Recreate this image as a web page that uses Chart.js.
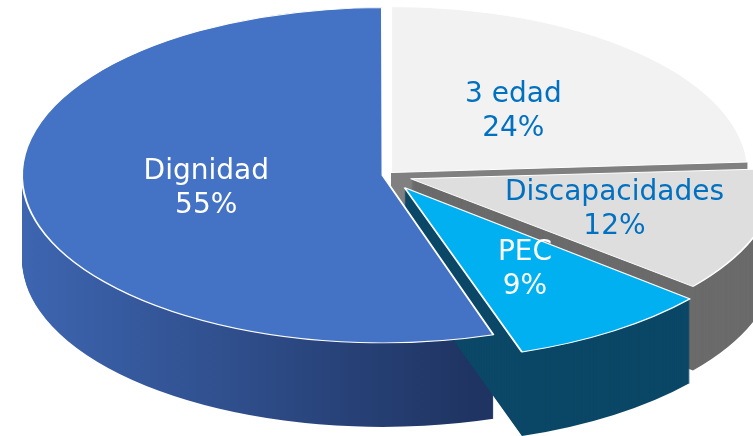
<!DOCTYPE html>
<html>
<head>
<meta charset="utf-8">
<script src="https://cdn.jsdelivr.net/npm/chart.js@4.4.0/dist/chart.umd.min.js"></script>
<style>
  html, body { margin: 0; padding: 0; background: #fff; }
  #wrap { width: 753px; height: 436px; }
</style>
</head>
<body>
<div id="wrap"><canvas id="pie" width="753" height="436"></canvas></div>
<script>
// slice order follows the picture: clockwise from 12 o'clock
var categories = ['3 edad', 'Discapacidades', 'PEC', 'Dignidad'];
var shares = [24, 12, 9, 55];

var topColors = ['#f2f2f2', '#dedede', '#00b0f0', '#4472c4'];
var sideColors = ['#808080', '#6b6b6b', '#0b4766', null]; // null -> blue gradient
var labelColors = ['#0070c0', '#0070c0', '#ffffff', '#ffffff'];
var explode = [30, 104, 132, 14];

var TILT = 0.465;  // vertical squash of the pie disc
var DEPTH = 84;    // thickness of the disc in px

var pie3d = {
  id: 'pie3d',
  beforeDatasetsDraw: function (chart) {
    var ctx = chart.ctx;
    var arcs = chart.getDatasetMeta(0).data;
    var cy = arcs[0].y;
    ctx.save();
    ctx.translate(0, cy);
    ctx.scale(1, TILT);
    ctx.translate(0, -cy);

    // sides first, back slices before front ones
    [0, 1, 3, 2].forEach(function (i) {
      var arc = arcs[i];
      var fill = sideColors[i];
      if (!fill) {
        fill = ctx.createLinearGradient(arc.x - arc.outerRadius, 0, arc.x + arc.outerRadius * 0.25, 0);
        fill.addColorStop(0, '#3d65b0');
        fill.addColorStop(1, '#1f3462');
      }
      var ghost = Object.create(arc);
      ghost.options = Object.assign({}, arc.options, { backgroundColor: fill, borderWidth: 0 });
      for (var d = DEPTH; d > 0; d--) {
        ctx.save();
        ctx.translate(0, d / TILT);
        ghost.draw(ctx);
        ctx.restore();
      }
    });
  },
  afterDatasetsDraw: function (chart) {
    var ctx = chart.ctx;
    ctx.restore();

    var arcs = chart.getDatasetMeta(0).data;
    ctx.save();
    ctx.font = '28px "DejaVu Sans"';
    ctx.textAlign = 'center';
    ctx.textBaseline = 'middle';
    arcs.forEach(function (arc, i) {
      var mid = (arc.startAngle + arc.endAngle) / 2;
      var push = (arc.options.offset || 0) / 4;
      var frac = arc.circumference > 1.2 ? 0.5 : 0.6;
      var rr = arc.outerRadius * frac + push;
      var x = arc.x + Math.cos(mid) * rr;
      var y = arc.y + Math.sin(mid) * rr * TILT;
      ctx.fillStyle = labelColors[i];
      ctx.fillText(categories[i], x, y - 17);
      ctx.fillText(shares[i] + '%', x, y + 17);
    });
    ctx.restore();
  }
};

new Chart(document.getElementById('pie'), {
  type: 'pie',
  data: {
    labels: categories,
    datasets: [{
      data: shares,
      backgroundColor: topColors,
      borderColor: '#ffffff',
      borderWidth: 2,
      offset: explode,
      radius: 357,
      clip: false
    }]
  },
  options: {
    responsive: false,
    animation: false,
    layout: { padding: { left: 19, right: 0, top: 0, bottom: 86 } },
    plugins: {
      legend: { display: false },
      tooltip: { enabled: false }
    }
  },
  plugins: [pie3d]
});
</script>
</body>
</html>
